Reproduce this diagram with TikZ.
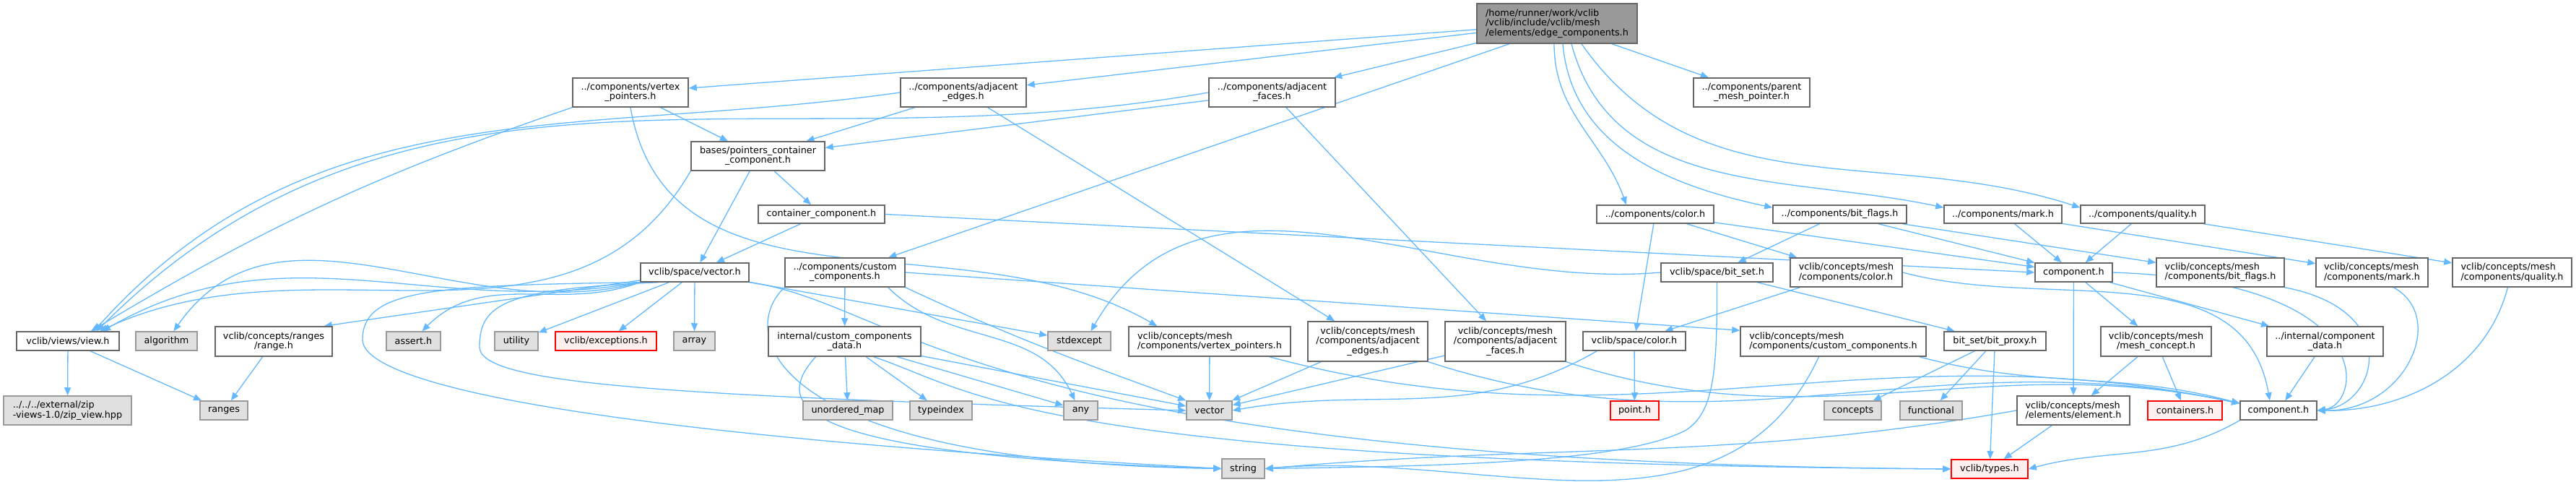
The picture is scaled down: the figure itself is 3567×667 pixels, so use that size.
\documentclass[tikz,border=0pt]{standalone}
\usepackage{fontspec}
\setmainfont{DejaVu Sans}
\usetikzlibrary{arrows.meta,backgrounds}
\definecolor{edgeblue}{HTML}{63B8FF}
\definecolor{boxgray}{HTML}{666666}
\definecolor{sysfill}{HTML}{E0E0E0}
\definecolor{sysline}{HTML}{999999}
\definecolor{missfill}{HTML}{FFF0F0}
\definecolor{rootfill}{HTML}{999999}

\begin{document}
\begin{tikzpicture}[x=0.5pt,y=0.5pt,
    usrfile/.style={draw=boxgray,fill=white,line width=0.75pt,inner sep=0pt,align=center,
      font=\fontsize{6.4}{6.65}\selectfont},
    sysfile/.style={usrfile,draw=sysline,fill=sysfill},
    missfile/.style={usrfile,draw=red,fill=missfill},
    rootfile/.style={usrfile,fill=rootfill},
    dep/.style={draw=edgeblue,line width=0.65pt,-{Triangle[length=5.5pt,width=4.5pt]}}]
    \useasboundingbox (0,0) rectangle (3567,-667);
    \node[rootfile,align=left,minimum width=111pt,minimum height=27.5pt] (edgecomp) at (2156,-32.5) {/home/runner/work/vclib\\/vclib/include/vclib/mesh\\/elements/edge\_components.h};
    \node[usrfile,minimum width=80pt,minimum height=20pt] (vtxptr) at (873,-128) {../components/vertex\\\_pointers.h};
    \node[usrfile,minimum width=87pt,minimum height=20pt] (adjedg) at (1334,-128) {../components/adjacent\\\_edges.h};
    \node[usrfile,minimum width=87.5pt,minimum height=20pt] (adjfac) at (1761.5,-128) {../components/adjacent\\\_faces.h};
    \node[usrfile,minimum width=80.5pt,minimum height=20pt] (parent) at (2425.5,-128) {../components/parent\\\_mesh\_pointer.h};
    \node[usrfile,minimum width=92.5pt,minimum height=20pt] (ptrcont) at (1049.5,-216) {bases/pointers\_container\\\_component.h};
    \node[usrfile,minimum width=87.5pt,minimum height=12.5pt] (contcomp) at (1137.5,-296.5) {container\_component.h};
    \node[usrfile,minimum width=81pt,minimum height=12.5pt] (color) at (2292,-296.5) {../components/color.h};
    \node[usrfile,minimum width=92.5pt,minimum height=12.5pt] (bitflags) at (2547.5,-296.5) {../components/bit\_flags.h};
    \node[usrfile,minimum width=81.5pt,minimum height=12.5pt] (mark) at (2773.5,-296.5) {../components/mark.h};
    \node[usrfile,minimum width=86pt,minimum height=12.5pt] (quality) at (2967,-296.5) {../components/quality.h};
    \node[usrfile,minimum width=75pt,minimum height=13pt] (vector) at (962,-377) {vclib/space/vector.h};
    \node[usrfile,minimum width=83pt,minimum height=20pt] (custcomp) at (1170,-377) {../components/custom\\\_components.h};
    \node[usrfile,minimum width=77.5pt,minimum height=13pt] (bitset) at (2377.5,-377) {vclib/space/bit\_set.h};
    \node[usrfile,align=left,minimum width=77.5pt,minimum height=20pt] (ccolor) at (2556.5,-377) {vclib/concepts/mesh\\/components/color.h};
    \node[usrfile,minimum width=53.5pt,minimum height=13pt] (compup) at (2871.5,-377) {component.h};
    \node[usrfile,align=left,minimum width=88.5pt,minimum height=20pt] (cbitflags) at (3074.5,-377) {vclib/concepts/mesh\\/components/bit\_flags.h};
    \node[usrfile,align=left,minimum width=77.5pt,minimum height=20pt] (cmark) at (3284.5,-377) {vclib/concepts/mesh\\/components/mark.h};
    \node[usrfile,align=left,minimum width=82.5pt,minimum height=20pt] (cquality) at (3478.5,-377) {vclib/concepts/mesh\\/components/quality.h};
    \node[usrfile,minimum width=71pt,minimum height=13pt] (view) at (94,-472) {vclib/views/view.h};
    \node[sysfile,minimum width=42.5pt,minimum height=13pt] (algorithm) at (230.5,-472) {algorithm};
    \node[usrfile,minimum width=81pt,minimum height=20.5pt] (range) at (379,-472.5) {vclib/concepts/ranges\\/range.h};
    \node[sysfile,minimum width=37.5pt,minimum height=13pt] (assert) at (572.5,-472) {assert.h};
    \node[sysfile,minimum width=30pt,minimum height=13pt] (utility) at (715,-472) {utility};
    \node[missfile,minimum width=70pt,minimum height=13pt] (exceptions) at (839,-472) {vclib/exceptions.h};
    \node[sysfile,minimum width=28.5pt,minimum height=13pt] (array) at (961.5,-472) {array};
    \node[usrfile,minimum width=105.5pt,minimum height=20.5pt] (ccdata) at (1169.5,-472.5) {internal/custom\_components\\\_data.h};
    \node[sysfile,minimum width=43.5pt,minimum height=13pt] (stdexcept) at (1494.5,-472) {stdexcept};
    \node[usrfile,align=left,minimum width=112pt,minimum height=20.5pt] (cvtxptr) at (1675,-472.5) {vclib/concepts/mesh\\/components/vertex\_pointers.h};
    \node[usrfile,minimum width=83pt,minimum height=27.5pt] (cadjedg) at (1894,-472.5) {vclib/concepts/mesh\\/components/adjacent\\\_edges.h};
    \node[usrfile,minimum width=83.5pt,minimum height=27.5pt] (cadjfac) at (2084.5,-472.5) {vclib/concepts/mesh\\/components/adjacent\\\_faces.h};
    \node[usrfile,minimum width=71pt,minimum height=13pt] (scolor) at (2263,-472) {vclib/space/color.h};
    \node[usrfile,align=left,minimum width=128.5pt,minimum height=20.5pt] (ccust) at (2538.5,-472.5) {vclib/concepts/mesh\\/components/custom\_components.h};
    \node[usrfile,minimum width=70.5pt,minimum height=13pt] (bitproxy) at (2762.5,-472) {bit\_set/bit\_proxy.h};
    \node[usrfile,minimum width=76.5pt,minimum height=20.5pt] (meshconcept) at (2985.5,-472.5) {vclib/concepts/mesh\\/mesh\_concept.h};
    \node[usrfile,minimum width=80.5pt,minimum height=20.5pt] (compdata) at (3219.5,-472.5) {../internal/component\\\_data.h};
    \node[sysfile,align=left,minimum width=88.5pt,minimum height=20pt] (zip) at (93.5,-568) {../../../external/zip\\-views-1.0/zip\_view.hpp};
    \node[sysfile,minimum width=33pt,minimum height=13pt] (ranges) at (310,-568) {ranges};
    \node[sysfile,minimum width=62pt,minimum height=13pt] (unordmap) at (1174,-568) {unordered\_map};
    \node[sysfile,minimum width=43pt,minimum height=13pt] (typeindex) at (1303,-568) {typeindex};
    \node[sysfile,minimum width=23.5pt,minimum height=13pt] (any) at (1496.5,-568) {any};
    \node[sysfile,minimum width=31.5pt,minimum height=13pt] (stdvector) at (1674.5,-568) {vector};
    \node[missfile,minimum width=33.5pt,minimum height=13pt] (point) at (2263.5,-568) {point.h};
    \node[sysfile,minimum width=39.5pt,minimum height=13pt] (concepts) at (2565.5,-568) {concepts};
    \node[sysfile,minimum width=43pt,minimum height=13pt] (functional) at (2674,-568) {functional};
    \node[usrfile,align=left,minimum width=78pt,minimum height=20pt] (element) at (2871,-568) {vclib/concepts/mesh\\/elements/element.h};
    \node[missfile,minimum width=51.5pt,minimum height=13pt] (containers) at (3025.5,-568) {containers.h};
    \node[usrfile,minimum width=53pt,minimum height=13pt] (complow) at (3155,-568) {component.h};
    \node[sysfile,minimum width=29.5pt,minimum height=13.5pt] (string) at (1721.5,-648.5) {string};
    \node[missfile,minimum width=53pt,minimum height=13pt] (types) at (2755,-649) {vclib/types.h};

    \begin{scope}[on background layer]
    \draw[dep] (edgecomp) -- (vtxptr);
    \draw[dep] (edgecomp) -- (adjedg);
    \draw[dep] (edgecomp) -- (adjfac);
    \draw[dep] ([xshift=-33pt]edgecomp.south) -- (custcomp);
    \draw[dep] ([xshift=38pt]edgecomp.south) -- (parent);
    \draw[dep] ([xshift=-2pt]edgecomp.south) to[out=-90,in=110] ([xshift=-20pt]color.north);
    \draw[dep] ([xshift=4pt]edgecomp.south) to[out=-85,in=168] ([yshift=-2pt]bitflags.north west);
    \draw[dep] ([xshift=10pt]edgecomp.south) to[out=-75,in=168] ([yshift=-2pt]mark.north west);
    \draw[dep] ([xshift=17pt]edgecomp.south) to[out=-55,in=162] ([yshift=-2pt]quality.north west);

    \draw[dep] (vtxptr) -- (ptrcont);
    \draw[dep] (vtxptr.south west) to[bend right=6] ([xshift=16pt]view.north);
    \draw[dep] (vtxptr.south) to[out=-80,in=150] ([xshift=20pt]cvtxptr.north west);
    \draw[dep] (adjedg) -- (ptrcont);
    \draw[dep] (adjedg.west) to[out=188,in=48] ([xshift=18pt]view.north);
    \draw[dep] (adjedg) -- (cadjedg);
    \draw[dep] (adjfac) -- (ptrcont);
    \draw[dep] (adjfac.west) to[out=190,in=45] ([xshift=20pt]view.north);
    \draw[dep] (adjfac) -- (cadjfac);

    \draw[dep] (ptrcont) -- (contcomp);
    \draw[dep] (ptrcont) -- (vector);
    \draw[dep] (ptrcont.south west) to[out=-120,in=25] ([xshift=22pt]view.north);
    \draw[dep] (contcomp) -- (vector);
    \draw[dep] (contcomp.east) -- (compup.west);

    \draw[dep] (vector.south west) to[out=190,in=30] ([xshift=24pt]view.north);
    \draw[dep] (vector.south west) to[out=195,in=55] ([xshift=5pt]algorithm.north);
    \draw[dep] (vector) -- ([xshift=-6pt]range.north east);
    \draw[dep] (vector.south west) to[out=200,in=45] ([xshift=6pt]assert.north);
    \draw[dep] (vector) -- (utility);
    \draw[dep] (vector) -- (exceptions);
    \draw[dep] (vector) -- (array);
    \draw[dep] (vector) -- (stdexcept);
    \draw[dep] (vector.south east) .. controls (1250,-420) and (1350,-640) .. (types.west);
    \draw[dep] (vector.south west) .. controls (600,-395) and (502,-400) .. (502,-470)
      .. controls (502,-530) and (800,-600) .. (string.west);
    \draw[dep] ([xshift=-25pt]vector.south) .. controls (700,-400) and (664,-420) .. (664,-480)
      .. controls (664,-530) and (900,-548) .. (stdvector.west);

    \draw[dep] (custcomp) -- (ccdata);
    \draw[dep] (custcomp.east) -- ([yshift=-3pt]ccust.north west);
    \draw[dep] (custcomp.south west) .. controls (1020,-460) and (1060,-640) .. (string.west);
    \draw[dep] ([xshift=-12pt]custcomp.south east) to[out=-45,in=115] ([xshift=-4pt]any.north);
    \draw[dep] (custcomp.south east) to[out=-25,in=160] (stdvector.north west);

    \draw[dep] (ccdata) -- (unordmap);
    \draw[dep] (ccdata) -- (typeindex);
    \draw[dep] (ccdata) -- (any);
    \draw[dep] (ccdata) -- (stdvector);
    \draw[dep] ([xshift=-20pt]ccdata.south) .. controls (1070,-560) and (1090,-630) .. (string.west);
    \draw[dep] ([xshift=20pt]ccdata.south) .. controls (1350,-540) and (1420,-640) .. (types.west);

    \draw[dep] (cvtxptr) -- (stdvector);
    \draw[dep] ([xshift=-15pt]cvtxptr.south east) to[out=-15,in=168] ([yshift=-2pt]complow.north west);
    \draw[dep] (cadjedg) -- (stdvector);
    \draw[dep] (cadjedg.south east) to[out=-18,in=168] ([yshift=-2pt]complow.north west);
    \draw[dep] (cadjfac) -- (stdvector);
    \draw[dep] (cadjfac.south east) to[out=-18,in=168] ([yshift=-2pt]complow.north west);
    \draw[dep] (scolor) -- (point);
    \draw[dep] ([xshift=10pt]scolor.south west) to[out=-150,in=10] (stdvector.east);

    \draw[dep] (color) -- (scolor);
    \draw[dep] (color) -- (ccolor);
    \draw[dep] (color) -- (compup);
    \draw[dep] (ccolor) -- (scolor);
    \draw[dep] (ccolor.east) to[out=-15,in=100] ([xshift=-6pt]complow.north);
    \draw[dep] (bitflags) -- (bitset);
    \draw[dep] (bitflags) -- (cbitflags);
    \draw[dep] (bitflags) -- (compup);
    \draw[dep] (mark) -- (cmark);
    \draw[dep] (mark) -- (compup);
    \draw[dep] (quality) -- (cquality);
    \draw[dep] (quality) -- (compup);

    \draw[dep] (bitset.west) to[out=185,in=60] ([xshift=8pt]stdexcept.north);
    \draw[dep] (bitset.south) .. controls (2378,-520) and (2372,-570) .. (2335,-595)
      .. controls (2250,-640) and (2000,-645) .. (string.east);
    \draw[dep] (bitset) -- (bitproxy);
    \draw[dep] (bitproxy) -- (concepts);
    \draw[dep] (bitproxy) -- (functional);
    \draw[dep] (bitproxy) -- (types);

    \draw[dep] (compup) -- (element);
    \draw[dep] (compup) -- (meshconcept);
    \draw[dep] (compup) -- (compdata);
    \draw[dep] (compup.east) .. controls (3300,-390) and (3270,-560) .. (complow.east);
    \draw[dep] (cbitflags.south east) .. controls (3330,-430) and (3290,-560) .. (complow.east);
    \draw[dep] ([xshift=15pt]cmark.south) .. controls (3390,-440) and (3330,-570) .. (complow.east);
    \draw[dep] ([xshift=-3pt]cquality.south) .. controls (3440,-520) and (3320,-570) .. (complow.east);
    \draw[dep] ([xshift=-5pt]ccust.south east) to[out=-15,in=165] ([yshift=-2pt]complow.north west);
    \draw[dep] ([xshift=-10pt]ccust.south) to[out=-115,in=5] (string.east);
    \draw[dep] (meshconcept) -- (element);
    \draw[dep] (meshconcept) -- (containers);
    \draw[dep] (compdata) -- (complow);
    \draw[dep] (element) -- (types);
    \draw[dep] (element.west) to[out=190,in=5] (string.east);
    \draw[dep] (complow.south west) to[out=-150,in=15] (types.east);

    \draw[dep] (view) -- (zip);
    \draw[dep] (view) -- (ranges);
    \draw[dep] (range) -- (ranges);
    \end{scope}
\end{tikzpicture}
\end{document}
